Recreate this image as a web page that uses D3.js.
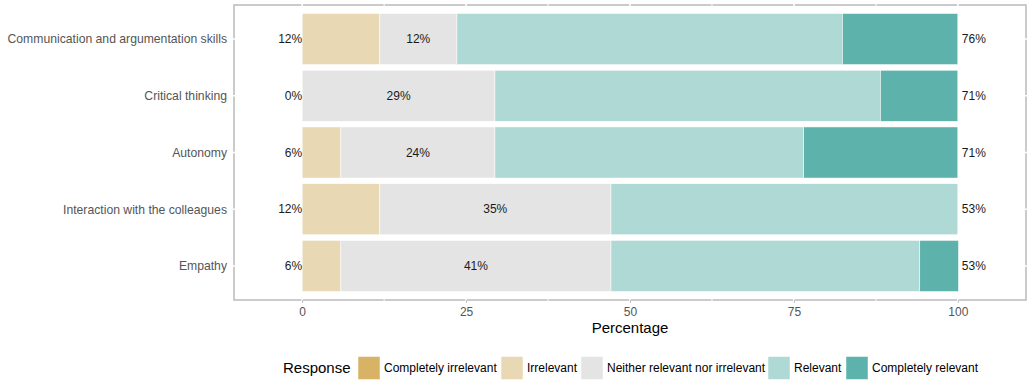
<!DOCTYPE html>
<html>
<head>
<meta charset="utf-8">
<script src="https://cdn.jsdelivr.net/npm/d3@7"></script>
<style>
  body { margin: 0; background: #fff; }
  svg text { font-family: "Liberation Sans", Arial, sans-serif; }
</style>
</head>
<body>
<div id="chart"></div>
<script>
// categories top to bottom
const items = [
    "Communication and argumentation skills",
    "Critical thinking",
    "Autonomy",
    "Interaction with the colleagues",
    "Empathy"
];
const levels = [
    "Completely irrelevant",
    "Irrelevant",
    "Neither relevant nor irrelevant",
    "Relevant",
    "Completely relevant"
];
// percentages per level, same order as items
const completelyIrrelevant = [0, 0, 0, 0, 0];
const irrelevant = [11.8, 0, 5.9, 11.8, 5.9];
const neutral = [11.8, 29.4, 23.5, 35.3, 41.2];
const relevant = [58.8, 58.8, 47.1, 52.9, 47.1];
const completelyRelevant = [17.6, 11.8, 23.5, 0, 5.9];
const xTicks = [0, 25, 50, 75, 100];

const colors = ["#D8B365", "#E9D8B4", "#E4E4E4", "#AED9D5", "#5DB3AC"];

const W = 1034, H = 389;
const PANEL = {left: 234, right: 1026, top: 5, bottom: 300};

const rows = items.map((name, i) => ({
    name: name,
    "Completely irrelevant": completelyIrrelevant[i],
    "Irrelevant": irrelevant[i],
    "Neither relevant nor irrelevant": neutral[i],
    "Relevant": relevant[i],
    "Completely relevant": completelyRelevant[i]
}));

const svg = d3.select("#chart").append("svg")
    .attr("width", W)
    .attr("height", H);

const x = d3.scaleLinear().domain([-10.4, 110.4]).range([PANEL.left, PANEL.right]);
const y = d3.scalePoint().domain(items).range([PANEL.top, PANEL.bottom]).padding(0.6);
const barH = y.step() * 0.9;

// panel border
svg.append("rect")
    .attr("x", PANEL.left)
    .attr("y", PANEL.top)
    .attr("width", PANEL.right - PANEL.left)
    .attr("height", PANEL.bottom - PANEL.top)
    .attr("fill", "#fff")
    .attr("stroke", "#BEBEBE")
    .attr("stroke-width", 1.6);

// white grid lines (they cut through the border)
const minor = [-12.5, 12.5, 37.5, 62.5, 87.5, 112.5].filter(v => x(v) > PANEL.left && x(v) < PANEL.right);
svg.append("g").selectAll("line.minor")
    .data(minor)
    .join("line")
    .attr("x1", d => x(d)).attr("x2", d => x(d))
    .attr("y1", PANEL.top - 1).attr("y2", PANEL.bottom + 1)
    .attr("stroke", "#fff").attr("stroke-width", 1);
svg.append("g").selectAll("line.major")
    .data(xTicks)
    .join("line")
    .attr("x1", d => x(d)).attr("x2", d => x(d))
    .attr("y1", PANEL.top - 1).attr("y2", PANEL.bottom + 1)
    .attr("stroke", "#fff").attr("stroke-width", 1.6);
svg.append("g").selectAll("line")
    .data(items)
    .join("line")
    .attr("x1", PANEL.left - 1).attr("x2", PANEL.right + 1)
    .attr("y1", d => y(d)).attr("y2", d => y(d))
    .attr("stroke", "#fff").attr("stroke-width", 1.6);

// stacked bars
const series = d3.stack().keys(levels)(rows);
svg.append("g").selectAll("g")
    .data(series)
    .join("g")
    .attr("fill", (d, i) => colors[i])
    .selectAll("rect")
    .data(d => d)
    .join("rect")
    .attr("x", d => x(d[0]))
    .attr("width", d => x(d[1]) - x(d[0]))
    .attr("y", d => y(d.data.name) - barH / 2)
    .attr("height", barH)
    .attr("stroke", "#fff")
    .attr("stroke-width", 0.5);

// percentage labels
const pct = v => Math.round(v) + "%";
const labels = svg.append("g")
    .attr("font-size", 12)
    .attr("fill", "#1a1a1a");
labels.selectAll("text.low")
    .data(rows)
    .join("text")
    .attr("x", x(0))
    .attr("y", d => y(d.name))
    .attr("dy", "0.35em")
    .attr("text-anchor", "end")
    .text(d => pct(d["Completely irrelevant"] + d["Irrelevant"]));
labels.selectAll("text.mid")
    .data(rows)
    .join("text")
    .attr("x", d => x(d["Completely irrelevant"] + d["Irrelevant"] + d["Neither relevant nor irrelevant"] / 2))
    .attr("y", d => y(d.name))
    .attr("dy", "0.35em")
    .attr("text-anchor", "middle")
    .text(d => pct(d["Neither relevant nor irrelevant"]));
labels.selectAll("text.high")
    .data(rows)
    .join("text")
    .attr("x", x(100) + 4)
    .attr("y", d => y(d.name))
    .attr("dy", "0.35em")
    .attr("text-anchor", "start")
    .text(d => pct(d["Relevant"] + d["Completely relevant"]));

// y axis labels
svg.append("g").selectAll("text")
    .data(items)
    .join("text")
    .attr("x", PANEL.left - 7)
    .attr("y", d => y(d))
    .attr("dy", "0.35em")
    .attr("text-anchor", "end")
    .attr("font-size", 12.2)
    .attr("fill", "#555")
    .text(d => d);

// x axis
const xAxis = svg.append("g")
    .attr("transform", `translate(0,${PANEL.bottom})`)
    .call(d3.axisBottom(x).tickValues(xTicks).tickSize(3).tickPadding(4));
xAxis.select(".domain").remove();
xAxis.selectAll("line").attr("stroke", "#BEBEBE");
xAxis.selectAll("text")
    .attr("font-size", 12)
    .attr("fill", "#555")
    .style("font-family", "'Liberation Sans', Arial, sans-serif");

svg.append("text")
    .attr("x", (PANEL.left + PANEL.right) / 2)
    .attr("y", 333)
    .attr("text-anchor", "middle")
    .attr("font-size", 15)
    .attr("fill", "#000")
    .text("Percentage");

// legend
const legend = svg.append("g").attr("transform", "translate(0,368)");
legend.append("text")
    .attr("x", 283)
    .attr("dy", "0.35em")
    .attr("font-size", 15)
    .attr("fill", "#000")
    .text("Response");
const keyX = [358, 501, 581, 768, 846];
const keys = legend.selectAll("g.key")
    .data(levels)
    .join("g")
    .attr("transform", (d, i) => `translate(${keyX[i]},0)`);
keys.append("rect")
    .attr("x", 0)
    .attr("y", -11.5)
    .attr("width", 22)
    .attr("height", 23)
    .attr("fill", (d, i) => colors[i])
    .attr("stroke", "#fff")
    .attr("stroke-width", 0.5);
keys.append("text")
    .attr("x", 26)
    .attr("dy", "0.35em")
    .attr("font-size", 12)
    .attr("fill", "#000")
    .text(d => d);
</script>
</body>
</html>
